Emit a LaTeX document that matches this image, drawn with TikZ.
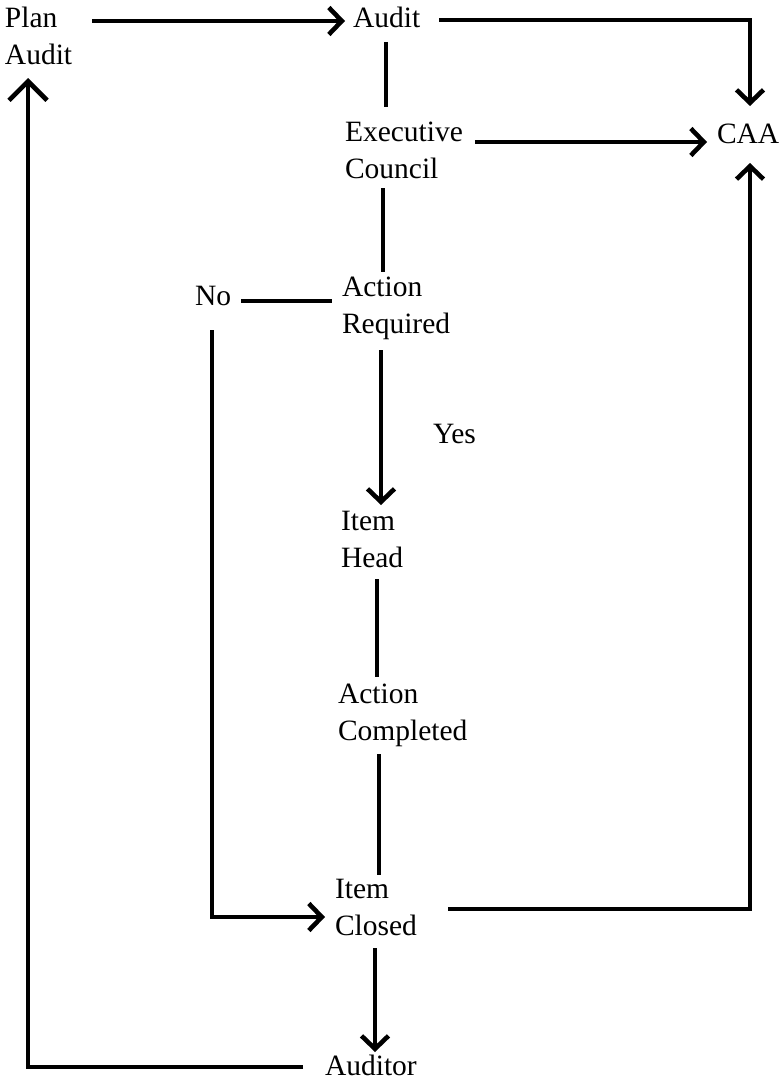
\documentclass[tikz,border=0pt]{standalone}
\usepackage{fontspec}
\setmainfont{Liberation Serif}
\usetikzlibrary{arrows.meta}
\begin{document}
\begin{tikzpicture}[x=1pt,y=-1pt,
  lbl/.style={inner sep=0pt,outer sep=0pt,align=left,anchor=base west,
    font=\fontsize{29.5pt}{37pt}\selectfont},
  conn/.style={line width=4.6pt},
  arr/.style={conn,-{Straight Barb[length=13pt,width=27pt]}},
  bigarr/.style={conn,-{Straight Barb[length=19pt,width=38pt]}}]
\useasboundingbox (0,0) rectangle (780,1081);
% multi-line nodes are placed at the baseline of their last line
\node[lbl] (plan)    at (5,65)    {Plan\\Audit};
\node[lbl] (audit)   at (353,28)  {Audit};
\node[lbl] (caa)     at (717,143) {CAA};
\node[lbl] (exec)    at (345,178) {Executive\\Council};
\node[lbl] (actreq)  at (342,333) {Action\\Required};
\node[lbl] (no)      at (195,305) {No};
\node[lbl] (yes)     at (433,443) {Yes};
\node[lbl] (head)    at (341,567) {Item\\Head};
\node[lbl] (actcomp) at (338,740) {Action\\Completed};
\node[lbl] (closed)  at (335,935) {Item\\Closed};
\node[lbl] (auditor) at (325,1075) {Auditor};
% connectors
\draw[arr]  ([shift={(87,-44)}]plan.base west) -- ([shift={(-8,-7)}]audit.base west);
\draw[arr]  ([shift={(19,-8)}]audit.base east) -| ([shift={(33,-37)}]caa.base west);
\draw[conn] ([shift={(33,14)}]audit.base west) -- ([shift={(41,-71)}]exec.base west);
\draw[arr]  ([shift={(12,-36)}]exec.base east) -- ([shift={(-10,-1)}]caa.base west);
\draw[conn] ([shift={(38,10)}]exec.base west) -- ([shift={(41,-61)}]actreq.base west);
\draw[conn] ([shift={(10,-4)}]no.base east) -- ([shift={(-10,-32)}]actreq.base west);
\draw[arr]  ([shift={(17,25)}]no.base west) |- ([shift={(-10,-18)}]closed.base west);
\draw[arr]  ([shift={(39,17)}]actreq.base west) -- ([shift={(40,-62)}]head.base west);
\draw[conn] ([shift={(36,12)}]head.base west) -- ([shift={(39,-63)}]actcomp.base west);
\draw[conn] ([shift={(41,14)}]actcomp.base west) -- ([shift={(44,-60)}]closed.base west);
\draw[arr]  ([shift={(113,-26)}]closed.base west) -| ([shift={(33,20)}]caa.base west);
\draw[arr]  ([shift={(40,13)}]closed.base west) -- ([shift={(50,-23)}]auditor.base west);
\draw[bigarr] ([shift={(-22,-8)}]auditor.base west) -| ([shift={(23,13)}]plan.base west);
\end{tikzpicture}
\end{document}
